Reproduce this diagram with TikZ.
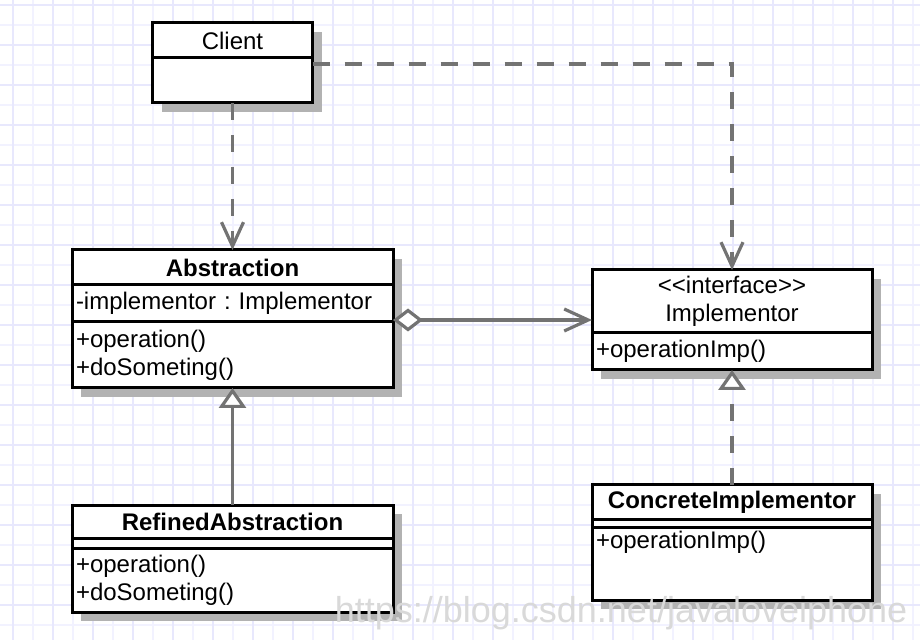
\documentclass[tikz,border=0pt]{standalone}
\usepackage{fontspec}
\setmainfont{Liberation Sans}
\usetikzlibrary{positioning,shadows,arrows.meta}
\frenchspacing

\definecolor{gridminor}{RGB}{242,242,255}
\definecolor{gridmajor}{RGB}{232,232,253}
\definecolor{linkgray}{RGB}{115,115,115}

\tikzset{
  classbox/.style={draw, line width=1.5pt, fill=white, outer sep=0pt,
    inner xsep=2pt, inner ysep=2pt, font=\fontsize{12}{14}\selectfont,
    drop shadow={shadow xshift=4.5pt, shadow yshift=-4.5pt, fill=black!30, opacity=1}},
  classname/.style={classbox, font=\fontsize{12}{14}\selectfont\bfseries},
  members/.style={classbox, text width=#1, align=left},
  depline/.style={draw=linkgray, line width=1.6pt, dash pattern=on 8.5pt off 7.5pt},
  assocline/.style={draw=linkgray, line width=1.6pt},
  openhead/.style={-{Straight Barb[length=12pt,width=11pt]}},
  inherit/.style={-{Triangle[fill=white,length=10pt,width=13.5pt]}}
}

\begin{document}
\begin{tikzpicture}[x=0.5pt,y=-0.5pt]
  \useasboundingbox (0,0) rectangle (920,640);
  % grid
  \foreach \x in {13,33,...,913} \draw[gridminor,line width=1pt] (\x,0) -- (\x,640);
  \foreach \y in {5,25,...,625} \draw[gridminor,line width=1pt] (0,\y) -- (920,\y);
  \foreach \x in {13,53,...,893} \draw[gridmajor,line width=1pt] (\x,0) -- (\x,640);
  \foreach \y in {5,45,...,605} \draw[gridmajor,line width=1pt] (0,\y) -- (920,\y);

  % Client
  \node[classbox, minimum width=80pt, minimum height=17.5pt, anchor=north] (ctitle) at (232.5,23) {Client};
  \node[classbox, minimum width=80pt, minimum height=22.5pt, below=0pt of ctitle] (cbody) {};

  % Abstraction
  \node[classname, minimum width=160.5pt, minimum height=17.5pt, anchor=north] (atitle) at (232.5,250) {Abstraction};
  \node[members=156.5pt, minimum height=18.5pt, below=0pt of atitle] (aattr) {-implementor : Implementor};
  \node[members=156.5pt, minimum height=33pt, below=0pt of aattr] (aops) {+operation()\\+doSometing()};

  % Implementor
  \node[classbox, minimum width=140pt, minimum height=31.5pt, anchor=north, align=center] (ititle) at (732,270)
    {<{}<interface>{}>\\Implementor};
  \node[members=136pt, minimum height=18.5pt, below=0pt of ititle] (iops) {+operationImp()};

  % RefinedAbstraction
  \node[classname, minimum width=160.5pt, minimum height=16.5pt, anchor=north] (rtitle) at (232.5,505) {RefinedAbstraction};
  \node[classbox, minimum width=160.5pt, minimum height=5pt, below=0pt of rtitle] (rattr) {};
  \node[members=156.5pt, minimum height=32pt, below=0pt of rattr] (rops) {+operation()\\+doSometing()};

  % ConcreteImplementor
  \node[classname, minimum width=140pt, minimum height=17pt, anchor=north] (ktitle) at (732,485) {ConcreteImplementor};
  \node[classbox, minimum width=140pt, minimum height=4pt, below=0pt of ktitle] (kattr) {};
  \node[members=136pt, text depth=24pt, below=0pt of kattr] (kops) {+operationImp()};

  % links
  \draw[depline, openhead] (cbody.south) -- (atitle.north);
  \draw[depline, openhead] ([yshift=-3pt]cbody.north east) -| (ititle.north);
  \draw[assocline, {Diamond[fill=white,length=15pt,width=11.5pt]}-{Straight Barb[length=12pt,width=11pt]}]
    ([yshift=1pt]aattr.south east) -- ([yshift=1pt]aattr.south east -| ititle.west);
  \draw[assocline, inherit] (rtitle.north) -- (aops.south);
  \draw[depline, inherit] (ktitle.north) -- (iops.south);

  \node[font=\fontsize{18}{20}\selectfont, text=black!15] (mark) at (621,613) {https://blog.csdn.net/javaloveiphone};
\end{tikzpicture}
\end{document}
